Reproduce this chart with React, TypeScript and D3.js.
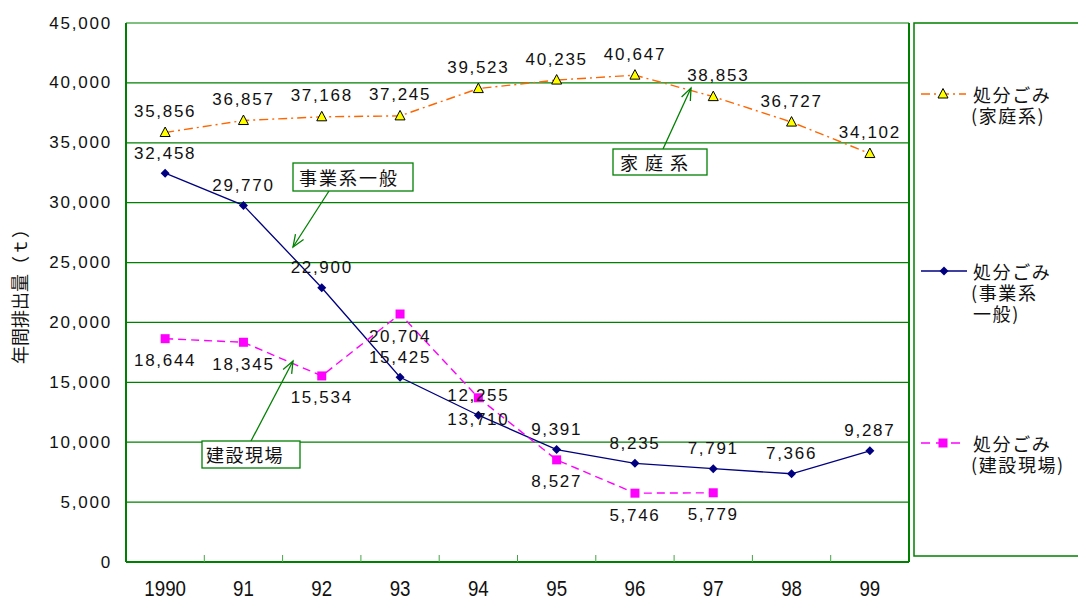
import React from "react";
import * as d3 from "d3";

const categories = ["1990", "91", "92", "93", "94", "95", "96", "97", "98", "99"];
const household = [35856, 36857, 37168, 37245, 39523, 40235, 40647, 38853, 36727, 34102];
const business = [32458, 29770, 22900, 15425, 12255, 9391, 8235, 7791, 7366, 9287];
const construction = [18644, 18345, 15534, 20704, 13710, 8527, 5746, 5779];
const yTicks = [0, 5000, 10000, 15000, 20000, 25000, 30000, 35000, 40000, 45000];
const legendHousehold = ["処分ごみ", "(家庭系)"];
const legendBusiness = ["処分ごみ", "(事業系", "一般)"];
const legendConstruction = ["処分ごみ", "(建設現場)"];

const W = 1078, H = 599;
const L = 126, R = 909, T = 23, B = 562;
const GREEN = "#008000";
const ORANGE = "#FF6600";
const NAVY = "#000080";
const PINK = "#FF00FF";
const NUM_FONT = "'Liberation Sans', Arial, sans-serif";
const CJK_FONT = "'Noto Sans CJK JP', 'Noto Sans CJK SC', sans-serif";

const fmt = d3.format(",");

export default function App() {
  const x = d3.scaleBand<string>().domain(categories).range([L, R]);
  const cx = (i: number) => (x(categories[i]) as number) + x.bandwidth() / 2;
  const y = d3.scaleLinear().domain([0, 45000]).range([B, T]);

  const line = d3.line<number>().x((_, i) => cx(i)).y((d) => y(d));

  const tri = (px: number, py: number, key: string) => (
    <path key={key} d={`M${px},${py - 5.5} L${px + 5},${py + 4} L${px - 5},${py + 4} Z`} fill="#FFFF00" stroke="#000" strokeWidth={1} />
  );
  const diamond = (px: number, py: number, key: string) => (
    <path key={key} d={`M${px},${py - 4.5} L${px + 4.5},${py} L${px},${py + 4.5} L${px - 4.5},${py} Z`} fill={NAVY} />
  );
  const square = (px: number, py: number, key: string) => (
    <rect key={key} x={px - 4.5} y={py - 4.5} width={9} height={9} fill={PINK} />
  );

  const numLabel = (v: number, px: number, py: number, key: string) => (
    <text key={key} x={px} y={py} textAnchor="middle" dominantBaseline="central" fontFamily={NUM_FONT} fontSize={17} letterSpacing={1.7} fill="#111">
      {fmt(v)}
    </text>
  );

  const arrow = (x1: number, y1: number, x2: number, y2: number) => {
    const a = Math.atan2(y2 - y1, x2 - x1);
    const len = 13, sp = 0.38;
    const p1 = [x2 - len * Math.cos(a - sp), y2 - len * Math.sin(a - sp)];
    const p2 = [x2 - len * Math.cos(a + sp), y2 - len * Math.sin(a + sp)];
    return (
      <g stroke={GREEN} strokeWidth={1.3} fill="none">
        <line x1={x1} y1={y1} x2={x2} y2={y2} />
        <polyline points={`${p1[0]},${p1[1]} ${x2},${y2} ${p2[0]},${p2[1]}`} />
      </g>
    );
  };

  const legendText = (lines: string[], x0: number, y0: number) => (
    <text x={x0} y={y0} dominantBaseline="central" fontFamily={CJK_FONT} fontSize={18} letterSpacing={1.6} fill="#111">
      {lines.map((s, i) => (
        <tspan key={i} x={s.startsWith("(") ? x0 - 2 : x0} dy={i === 0 ? 0 : 21}>{s}</tspan>
      ))}
    </text>
  );

  return (
    <svg width={W} height={H} style={{ position: "absolute", left: 0, top: 0, background: "#fff" }}>
      {/* gridlines */}
      {yTicks.map((t) => (
        <line key={"g" + t} x1={L} x2={R} y1={y(t)} y2={y(t)} stroke={GREEN} strokeWidth={1.2} />
      ))}
      {/* frame */}
      <line x1={L} x2={L} y1={T} y2={B} stroke={GREEN} strokeWidth={2} />
      <line x1={R} x2={R} y1={T} y2={B} stroke={GREEN} strokeWidth={2} />
      <line x1={L} x2={R} y1={B} y2={B} stroke={GREEN} strokeWidth={2} />
      {/* x ticks at boundaries */}
      {categories.slice(1).map((c) => (
        <line key={"xt" + c} x1={x(c)} x2={x(c)} y1={B} y2={B - 7} stroke="#4aa04a" strokeWidth={1} />
      ))}
      {/* y tick labels */}
      {yTicks.map((t) => (
        <text key={"yl" + t} x={112} y={y(t)} textAnchor="end" dominantBaseline="central" fontFamily={NUM_FONT} fontSize={17} letterSpacing={1.8} fill="#111">
          {fmt(t)}
        </text>
      ))}
      {/* x labels */}
      {categories.map((c, i) => (
        <text key={"xl" + c} transform={`translate(${cx(i)},588) scale(0.85,1)`} textAnchor="middle" dominantBaseline="central" fontFamily={NUM_FONT} fontSize={22} fill="#111">
          {c}
        </text>
      ))}
      {/* y axis title */}
      <text transform={`translate(19,292) rotate(-90)`} textAnchor="middle" dominantBaseline="central" fontFamily={CJK_FONT} fontSize={18} fill="#111">
        年間排出量（ｔ）
      </text>

      {/* series lines */}
      <path d={line(household) as string} fill="none" stroke={ORANGE} strokeWidth={1.4} strokeDasharray="9,4,2,4" />
      <path d={line(business) as string} fill="none" stroke={NAVY} strokeWidth={1.3} />
      <path d={line(construction) as string} fill="none" stroke={PINK} strokeWidth={1.4} strokeDasharray="8,5" />

      {/* markers */}
      {household.map((v, i) => tri(cx(i), y(v), "h" + i))}
      {business.map((v, i) => diamond(cx(i), y(v), "b" + i))}
      {construction.map((v, i) => square(cx(i), y(v), "c" + i))}

      {/* data labels */}
      {household.map((v, i) => numLabel(v, cx(i) + (i === 7 ? 5 : 0), y(v) - 21, "hl" + i))}
      {business.map((v, i) => numLabel(v, cx(i), y(v) - 20, "bl" + i))}
      {construction.map((v, i) => numLabel(v, cx(i), y(v) + 22, "cl" + i))}

      {/* annotations */}
      {arrow(329, 191, 293, 247)}
      <rect x={293} y={163} width={120} height={28} fill="#fff" stroke={GREEN} strokeWidth={1.3} />
      <text x={299} y={177} dominantBaseline="central" fontFamily={CJK_FONT} fontSize={18} letterSpacing={2} fill="#111">事業系一般</text>

      {arrow(663, 149, 691, 88)}
      <rect x={613} y={149} width={94} height={26} fill="#fff" stroke={GREEN} strokeWidth={1.3} />
      <text x={620} y={162} dominantBaseline="central" fontFamily={CJK_FONT} fontSize={18} letterSpacing={1.5} fill="#111" style={{ whiteSpace: "pre" }}>家 庭 系</text>

      {arrow(251, 441, 293, 361)}
      <rect x={202} y={441} width={98} height={27} fill="#fff" stroke={GREEN} strokeWidth={1.3} />
      <text x={206} y={454} dominantBaseline="central" fontFamily={CJK_FONT} fontSize={18} letterSpacing={1.5} fill="#111">建設現場</text>

      {/* legend */}
      <rect x={914} y={23} width={180} height={533} fill="#fff" stroke={GREEN} strokeWidth={1.5} />
      <line x1={921} x2={966} y1={94} y2={94} stroke={ORANGE} strokeWidth={1.6} strokeDasharray="9,4,2,4" />
      {tri(943, 94, "lt")}
      <line x1={921} x2={967} y1={271} y2={271} stroke={NAVY} strokeWidth={1.6} />
      {diamond(944, 271, "ld")}
      <line x1={921} x2={966} y1={443} y2={443} stroke={PINK} strokeWidth={1.6} strokeDasharray="9,6" />
      {square(943, 443, "ls")}
      {legendText(legendHousehold, 973, 94)}
      {legendText(legendBusiness, 973, 271)}
      {legendText(legendConstruction, 973, 443)}
    </svg>
  );
}
